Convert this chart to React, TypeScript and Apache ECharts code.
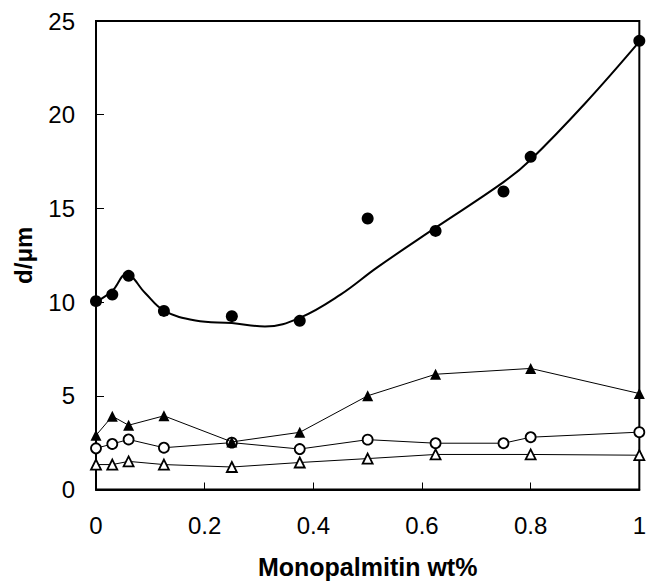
import React, { useEffect, useRef } from "react";
import * as echarts from "echarts";

// Data
const xFull = [0, 0.03, 0.06, 0.125, 0.25, 0.375, 0.5, 0.625, 0.75, 0.8, 1.0];
const filledCircleY = [10.05, 10.4, 11.4, 9.53, 9.25, 9.0, 14.46, 13.8, 15.9, 17.75, 23.94];

const xTri = [0, 0.03, 0.06, 0.125, 0.25, 0.375, 0.5, 0.625, 0.8, 1.0];
const filledTriY = [2.89, 3.91, 3.43, 3.93, 2.54, 3.05, 5.0, 6.15, 6.46, 5.12];

const openCircleY = [2.2, 2.43, 2.67, 2.23, 2.5, 2.16, 2.66, 2.47, 2.47, 2.79, 3.06];

const openTriY = [1.33, 1.33, 1.5, 1.33, 1.2, 1.44, 1.65, 1.87, 1.87, 1.83];

const curveX = [0, 0.03, 0.056, 0.09, 0.125, 0.183, 0.25, 0.311, 0.375, 0.45, 0.517, 0.625, 0.75, 0.8, 0.9, 1.0];
const curveY = [10.0, 10.6, 11.5, 10.5, 9.55, 9.02, 8.88, 8.7, 9.16, 10.4, 11.84, 13.97, 16.4, 17.6, 20.6, 23.9];

const xTicks = [0, 0.2, 0.4, 0.6, 0.8, 1];
const yTicks = [0, 5, 10, 15, 20, 25];

const zip = (xs: number[], ys: number[]) => xs.map((x, i) => [x, ys[i]]);

export default function App() {
  const ref = useRef<HTMLDivElement>(null);
  useEffect(() => {
    if (!ref.current) return;
    const chart = echarts.init(ref.current, null, { renderer: "svg" });
    const font = "'Liberation Sans', Arial, Helvetica, sans-serif";
    chart.setOption({
      animation: false,
      backgroundColor: "#fff",
      textStyle: { fontFamily: font },
      grid: {
        left: 96,
        right: 4,
        top: 21,
        bottom: 90,
        show: true,
        borderColor: "#000",
        borderWidth: 2,
        backgroundColor: "transparent",
      },
      xAxis: {
        type: "value",
        min: xTicks[0],
        max: xTicks[xTicks.length - 1],
        interval: 0.2,
        name: "Monopalmitin wt%",
        nameLocation: "middle",
        nameGap: 77,
        nameTextStyle: {
          fontFamily: font,
          fontSize: 25,
          fontWeight: "bold",
          color: "#000",
          verticalAlign: "middle",
        },
        axisLine: { show: true, lineStyle: { color: "#000", width: 2 } },
        axisTick: { show: true, inside: true, length: 7, lineStyle: { color: "#000", width: 1 } },
        splitLine: { show: false },
        axisLabel: {
          fontFamily: font,
          fontSize: 24,
          color: "#000",
          margin: 24,
          formatter: (v: number) => String(parseFloat(v.toFixed(1))),
        },
      },
      yAxis: {
        type: "value",
        min: yTicks[0],
        max: yTicks[yTicks.length - 1],
        interval: 5,
        name: "d/\u03bcm",
        nameLocation: "middle",
        nameGap: 73,
        nameRotate: 90,
        nameTextStyle: {
          fontFamily: font,
          fontSize: 24,
          fontWeight: "bold",
          color: "#000",
          verticalAlign: "middle",
        },
        axisLine: { show: true, lineStyle: { color: "#000", width: 2 } },
        axisTick: { show: true, inside: true, length: 8, lineStyle: { color: "#000", width: 1 } },
        splitLine: { show: false },
        axisLabel: {
          fontFamily: font,
          fontSize: 24,
          color: "#000",
          margin: 21,
        },
      },
      series: [
        {
          name: "open triangles",
          type: "line",
          data: zip(xTri, openTriY),
          symbol: "triangle",
          symbolSize: 10,
          itemStyle: { color: "#fff", borderColor: "#000", borderWidth: 1.8, opacity: 1 },
          lineStyle: { color: "#000", width: 1 },
          z: 2,
        },
        {
          name: "open circles",
          type: "line",
          data: zip(xFull, openCircleY),
          symbol: "circle",
          symbolSize: 10,
          itemStyle: { color: "#fff", borderColor: "#000", borderWidth: 1.8, opacity: 1 },
          lineStyle: { color: "#000", width: 1 },
          z: 3,
        },
        {
          name: "filled triangles",
          type: "line",
          data: zip(xTri, filledTriY),
          symbol: "triangle",
          symbolSize: 11,
          itemStyle: { color: "#000", opacity: 1 },
          lineStyle: { color: "#000", width: 1 },
          z: 4,
        },
        {
          name: "fit",
          type: "line",
          data: zip(curveX, curveY),
          smooth: 0.4,
          showSymbol: false,
          symbol: "none",
          lineStyle: { color: "#000", width: 2 },
          z: 5,
        },
        {
          name: "filled circles",
          type: "scatter",
          data: zip(xFull, filledCircleY),
          symbol: "circle",
          symbolSize: 12,
          itemStyle: { color: "#000", opacity: 1 },
          z: 6,
        },
      ],
    });
    return () => chart.dispose();
  }, []);
  return (
    <div
      ref={ref}
      style={{ position: "fixed", left: 0, top: 0, width: 649, height: 584, background: "#fff" }}
    />
  );
}
